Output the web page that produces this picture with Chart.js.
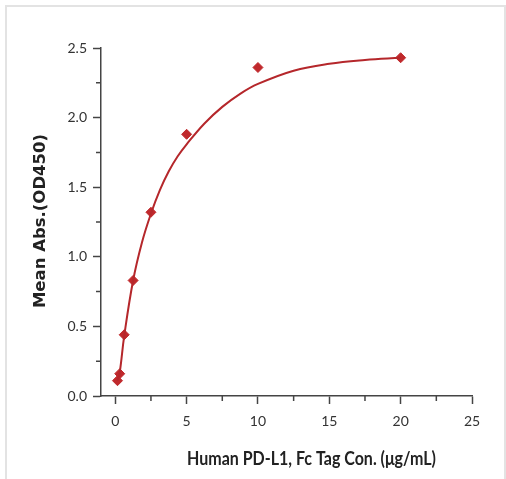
<!DOCTYPE html>
<html>
<head>
  <title>PD-L1 binding curve</title>
  <script src="https://cdn.jsdelivr.net/npm/chart.js"></script>
  <style>
    body { margin: 0; background: #fff; }
    #wrap { position: relative; width: 506px; height: 479px; }
    #frame {
      position: absolute; left: 5px; top: 5px; width: 501px; height: 474px;
      border: 2px solid #e3e3e3; border-bottom: none; box-sizing: border-box;
    }
    canvas { position: absolute; left: 0; top: 0; }
  </style>
</head>
<body>
  <div id="wrap">
    <div id="frame"></div>
    <canvas id="chart" width="506" height="479"></canvas>
  </div>

  <script>
    // measured points (ug/mL vs OD450)
    const concentration = [0.156, 0.3125, 0.625, 1.25, 2.5, 5, 10, 20];
    const meanAbs = [0.11, 0.16, 0.44, 0.83, 1.32, 1.88, 2.36, 2.43];

    // fitted curve
    const fitX = [0.156, 0.3125, 0.625, 1.25, 1.875, 2.5, 3.125, 3.75, 4.375, 5, 6.25, 7.5, 8.75, 10, 12.5, 15, 17.5, 20];
    const fitY = [0.11, 0.17, 0.43, 0.83, 1.105, 1.31, 1.479, 1.614, 1.722, 1.808, 1.958, 2.077, 2.171, 2.242, 2.337, 2.387, 2.414, 2.43];

    const xTicks = [0, 2.5, 5, 7.5, 10, 12.5, 15, 17.5, 20, 22.5, 25];
    const yTicks = [0, 0.25, 0.5, 0.75, 1, 1.25, 1.5, 1.75, 2, 2.25, 2.5];

    const xTitle = 'Human PD-L1, Fc Tag Con. (\u03bcg/mL)';
    const yTitle = 'Mean Abs.(OD450)';

    const axisColor = '#444';
    const red = '#c0292c';

    const isMajorX = v => Math.abs(v % 5) < 1e-9;
    const isMajorY = v => Math.abs((v * 2) - Math.round(v * 2)) < 1e-9;

    // short ticks for the minor steps, plus the two axis titles
    const extras = {
      id: 'extras',
      afterDraw(chart) {
        const ctx = chart.ctx;
        const x = chart.scales.x, y = chart.scales.y;
        ctx.save();
        ctx.strokeStyle = axisColor;
        ctx.lineWidth = 1.5;
        ctx.beginPath();
        xTicks.filter(v => !isMajorX(v)).forEach(v => {
          const px = x.getPixelForValue(v);
          ctx.moveTo(px, x.top);
          ctx.lineTo(px, x.top + 5);
        });
        yTicks.filter(v => !isMajorY(v)).forEach(v => {
          const py = y.getPixelForValue(v);
          ctx.moveTo(y.right, py);
          ctx.lineTo(y.right - 5, py);
        });
        ctx.stroke();

        ctx.fillStyle = '#222';
        ctx.textAlign = 'center';
        ctx.textBaseline = 'middle';

        // x title: narrow bold face, squeezed to the original width
        ctx.save();
        ctx.font = 'bold 18.5px Lato';
        const w = ctx.measureText(xTitle).width;
        ctx.translate(311.5, 459);
        ctx.scale(249 / w, 1);
        ctx.fillText(xTitle, 0, 0);
        ctx.restore();

        ctx.translate(41, 221);
        ctx.rotate(-Math.PI / 2);
        ctx.font = 'bold 16.5px "DejaVu Sans"';
        ctx.fillText(yTitle, 0, 0);
        ctx.restore();
      }
    };

    new Chart(document.getElementById('chart'), {
      type: 'scatter',
      data: {
        datasets: [
          {
            label: 'fit',
            data: fitX.map((v, i) => ({ x: v, y: fitY[i] })),
            showLine: true,
            borderColor: '#b5272b',
            borderWidth: 2,
            pointRadius: 0,
            tension: 0.4,
            clip: false
          },
          {
            label: 'PD-L1',
            data: concentration.map((v, i) => ({ x: v, y: meanAbs[i] })),
            pointStyle: 'rectRot',
            pointRadius: 5,
            backgroundColor: red,
            borderColor: red,
            borderWidth: 1,
            clip: false
          }
        ]
      },
      options: {
        responsive: false,
        animation: false,
        layout: { padding: { top: 48, right: 34, bottom: 0, left: 0 } },
        plugins: { legend: { display: false }, tooltip: { enabled: false } },
        scales: {
          x: {
            type: 'linear',
            min: -1,
            max: 25,
            afterBuildTicks: s => { s.ticks = xTicks.map(v => ({ value: v })); },
            afterFit: s => { s.height = 83; },
            border: { display: true, color: axisColor, width: 1.5 },
            grid: {
              drawOnChartArea: false,
              tickLength: 8,
              tickWidth: 1.5,
              tickColor: c => (c.tick && isMajorX(c.tick.value)) ? axisColor : 'rgba(0,0,0,0)'
            },
            ticks: {
              autoSkip: false,
              maxRotation: 0,
              padding: 9,
              color: '#333',
              font: { family: 'Lato', size: 14 },
              callback: v => isMajorX(v) ? String(v) : ''
            }
          },
          y: {
            min: 0,
            max: 2.5,
            afterBuildTicks: s => { s.ticks = yTicks.map(v => ({ value: v })); },
            afterFit: s => { s.width = 101; },
            border: { display: true, color: axisColor, width: 1.5 },
            grid: {
              drawOnChartArea: false,
              tickLength: 8,
              tickWidth: 1.5,
              tickColor: c => (c.tick && isMajorY(c.tick.value)) ? axisColor : 'rgba(0,0,0,0)'
            },
            ticks: {
              autoSkip: false,
              padding: 6,
              color: '#333',
              font: { family: 'Lato', size: 14 },
              callback: v => isMajorY(v) ? v.toFixed(1) : ''
            }
          }
        }
      },
      plugins: [extras]
    });
  </script>
</body>
</html>
